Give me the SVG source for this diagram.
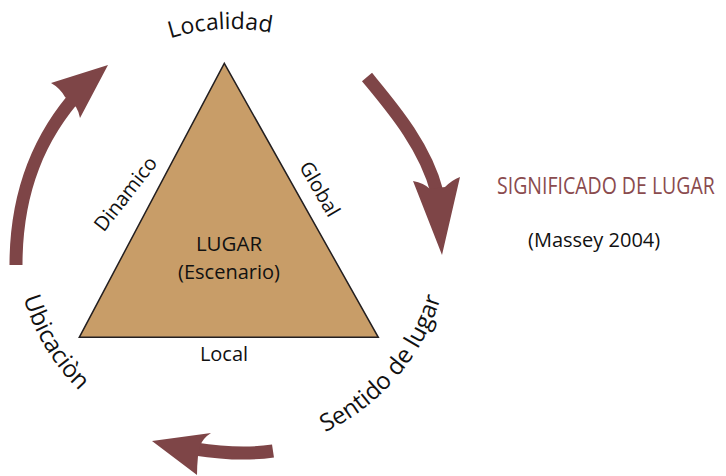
<svg xmlns="http://www.w3.org/2000/svg" width="726" height="476" viewBox="0 0 726 476">
<style>
.shaft{fill:none;stroke:#7e4547;stroke-width:13}
.head{fill:#7e4547}
.t{font-family:"Open Sans","Noto Sans",sans-serif;fill:#111111}
.arc{font-size:23px}
.arcb{font-size:24px}
.edge{font-size:20px}
</style>
<defs>
<path id="pLoc" d="M48.1,142.1 A206,206 0 0 1 404.4,122.2"/>
<path id="pUbi" d="M41,130 A218,218 0 0 0 236.6,453"/>
<path id="pSen" d="M196,450 A218,218 0 0 0 436.2,158.7"/>
</defs>
<rect width="726" height="476" fill="#ffffff"/>
<g id="connectors">
<g id="arrow-ubicacion-localidad">
<path class="shaft" d="M16,265 C16,190 40,135 80,91"/>
<path class="head" d="M108,65 L51,83 Q60,88 65,97 L76,107 Q79,112 80,118 Z"/>
</g>
<g id="arrow-localidad-sentido">
<path class="shaft" d="M367,77 C390,105 425,145 437,192"/>
<path class="head" d="M442,255 L413,181 Q424,183 430,189 L445,187 Q452,180 460,177 Z"/>
</g>
<g id="arrow-sentido-ubicacion">
<path class="shaft" d="M273,451 Q240,456 195,449"/>
<path class="head" d="M152,441 L211,433 Q203,438 200,446 L198,456 Q197,466 197,475 Z"/>
</g>
</g>
<g id="lugar">
<polygon points="224.3,63.3 79.3,337.3 378.3,337.3" fill="#c89d68" stroke="#231f20" stroke-width="1.5"/>
<text class="t" x="229" y="251" font-size="20.5" text-anchor="middle">LUGAR</text>
<text class="t" x="229" y="279" font-size="20" text-anchor="middle">(Escenario)</text>
<text class="t edge" x="224" y="361" text-anchor="middle">Local</text>
<text class="t edge" text-anchor="middle" transform="translate(131,198) rotate(-52)">Dinamico</text>
<text class="t edge" text-anchor="middle" transform="translate(313.7,192.5) rotate(60)">Global</text>
</g>
<g id="localidad">
<text class="t arc"><textPath href="#pLoc" startOffset="50%" text-anchor="middle">Localidad</textPath></text>
</g>
<g id="ubicacion">
<text class="t arcb"><textPath href="#pUbi" startOffset="50%" text-anchor="middle">Ubicaciòn</textPath></text>
</g>
<g id="sentido">
<text class="t arcb"><textPath href="#pSen" startOffset="49%" text-anchor="middle">Sentido de lugar</textPath></text>
</g>
<g id="significado">
<text class="t" font-size="19.5" style="fill:#8a4b4e" transform="translate(497,194) scale(1,1.18)">SIGNIFICADO DE LUGAR</text>
<text class="t" x="528" y="247" font-size="20">(Massey 2004)</text>
</g>
</svg>
